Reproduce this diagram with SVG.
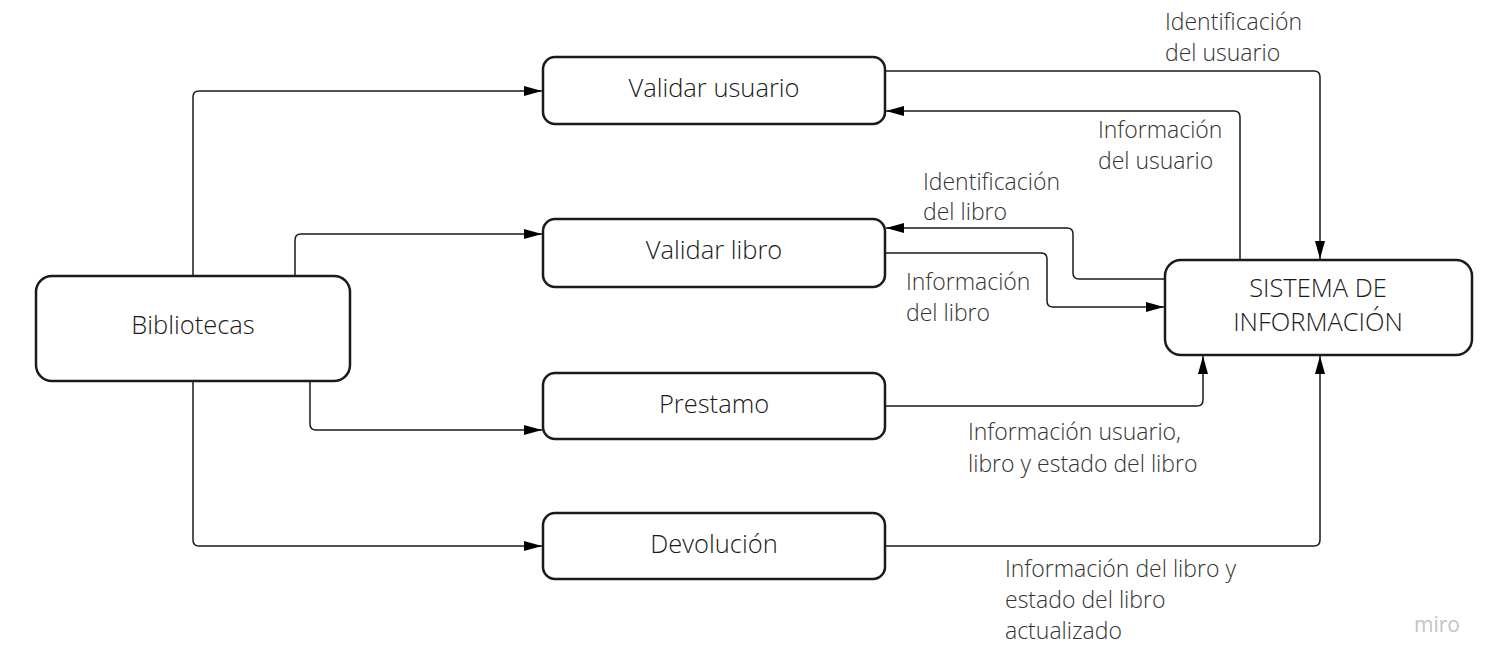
<svg xmlns="http://www.w3.org/2000/svg" width="1497" height="667" viewBox="0 0 1497 667">
<style>
.node{fill:#ffffff;stroke:#1a1a1a;stroke-width:2.5}
.nt{font-family:"Open Sans","Noto Sans",sans-serif;font-size:25.5px;font-weight:300;fill:#1a1a1a;text-anchor:middle}
.lbl{font-family:"Open Sans","Noto Sans",sans-serif;font-size:23px;font-weight:300;fill:#333333}
.con{fill:none;stroke:#1a1a1a;stroke-width:1.5;marker-end:url(#arr)}
.wm{font-family:"Open Sans","Noto Sans",sans-serif;font-size:21px;font-weight:500;fill:#c4c4c4}
</style>
<defs>
<marker id="arr" markerUnits="userSpaceOnUse" markerWidth="18" markerHeight="10" viewBox="0 0 18 10" refX="18" refY="5" orient="auto">
<path d="M0,0 L18,5 L0,10 z" fill="#000000"/>
</marker>
</defs>
<rect width="1497" height="667" fill="#ffffff"/>
<g id="connectors">
<path class="con" d="M193,276 V97 Q193,91 199,91 H542"/>
<path class="con" d="M295,276 V240 Q295,234 301,234 H542"/>
<path class="con" d="M310,381 V424 Q310,430 316,430 H542"/>
<path class="con" d="M193,381 V540 Q193,546 199,546 H542"/>
<path class="con" d="M885,71 H1314 Q1320,71 1320,77 V259"/>
<path class="con" d="M1240,260 V117 Q1240,111 1234,111 H886"/>
<path class="con" d="M1165,279 H1079 Q1073,279 1073,273 V234 Q1073,228 1067,228 H886"/>
<path class="con" d="M885,253 H1041 Q1047,253 1047,259 V301 Q1047,307 1053,307 H1164"/>
<path class="con" d="M885,406 H1197 Q1203,406 1203,400 V356"/>
<path class="con" d="M885,546 H1314 Q1320,546 1320,540 V356"/>
</g>
<g id="labels">
<text class="lbl" x="1165" y="30">Identificación</text>
<text class="lbl" x="1165" y="61">del usuario</text>
<text class="lbl" x="1098" y="138">Información</text>
<text class="lbl" x="1098" y="169">del usuario</text>
<text class="lbl" x="923" y="190">Identificación</text>
<text class="lbl" x="923" y="220">del libro</text>
<text class="lbl" x="906" y="290">Información</text>
<text class="lbl" x="906" y="321">del libro</text>
<text class="lbl" x="968" y="440">Información usuario,</text>
<text class="lbl" x="968" y="472">libro y estado del libro</text>
<text class="lbl" x="1005" y="577">Información del libro y</text>
<text class="lbl" x="1005" y="608">estado del libro</text>
<text class="lbl" x="1005" y="639">actualizado</text>
</g>
<g id="bibliotecas">
<rect class="node" x="36" y="276" width="314" height="105" rx="16"/>
<text class="nt" x="193" y="334">Bibliotecas</text>
</g>
<g id="validar-usuario">
<rect class="node" x="543" y="57" width="342" height="67" rx="12"/>
<text class="nt" x="714" y="97">Validar usuario</text>
</g>
<g id="validar-libro">
<rect class="node" x="543" y="219" width="342" height="68" rx="12"/>
<text class="nt" x="714" y="259">Validar libro</text>
</g>
<g id="prestamo">
<rect class="node" x="543" y="373" width="342" height="66" rx="12"/>
<text class="nt" x="714" y="413">Prestamo</text>
</g>
<g id="devolucion">
<rect class="node" x="543" y="513" width="342" height="66" rx="12"/>
<text class="nt" x="714" y="553">Devolución</text>
</g>
<g id="sistema">
<rect class="node" x="1165" y="260" width="307" height="95" rx="16"/>
<text class="nt" x="1318" y="297">SISTEMA DE</text>
<text class="nt" x="1318" y="331">INFORMACIÓN</text>
</g>
<text class="wm" x="1414" y="632">miro</text>
</svg>
